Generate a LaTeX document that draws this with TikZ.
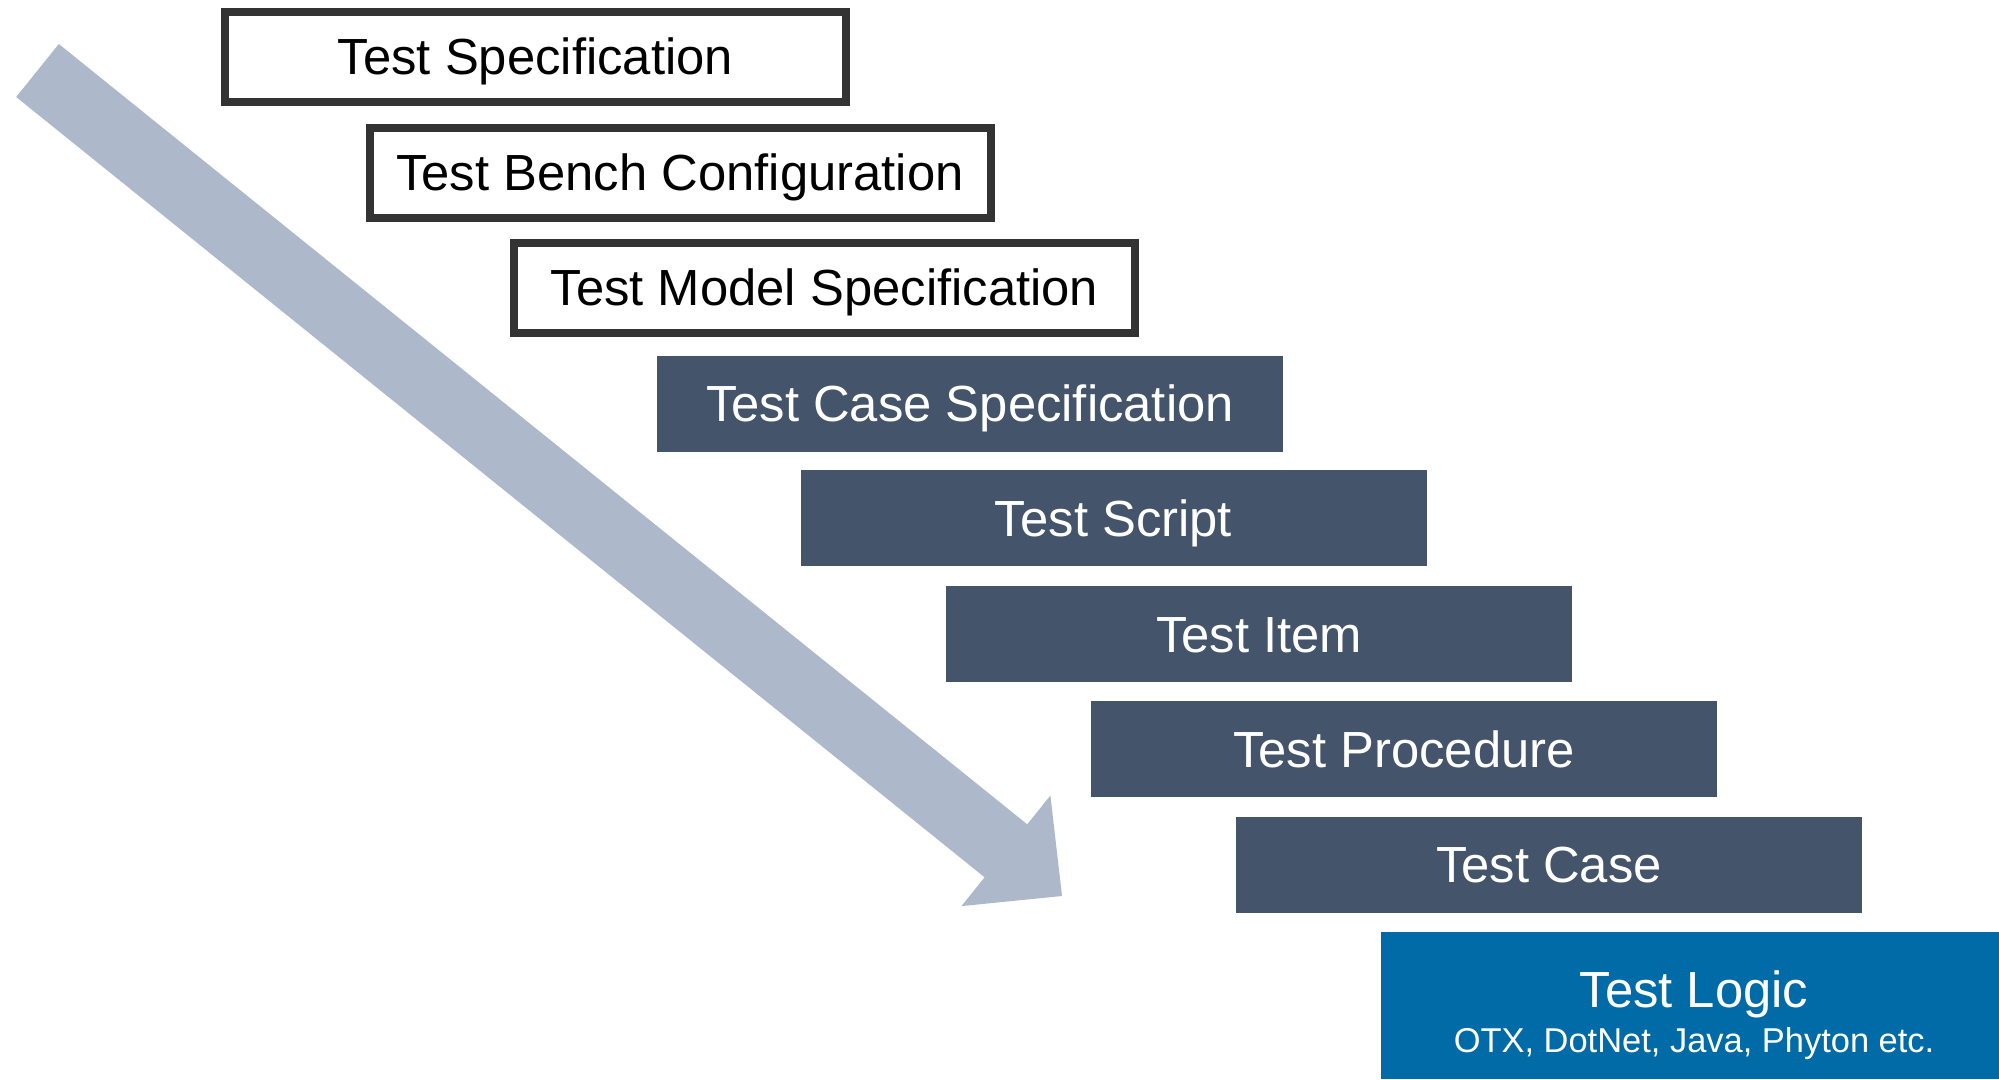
\documentclass[tikz,border=0pt]{standalone}
\usepackage{fontspec}
\setmainfont{Liberation Sans}
\usepackage{xcolor}
\usepackage{tikz}
\usetikzlibrary{positioning}

\begin{document}
\begin{tikzpicture}[
    phase/.style={rectangle, minimum width=12.52cm, minimum height=1.92cm,
                  text height=20.7pt, text depth=0pt, inner sep=0pt,
                  font=\fontsize{28.9}{34}\selectfont},
    spec/.style={phase, draw=borderC, line width=0.16cm, fill=white, text=black,
                 minimum width=12.42cm, minimum height=1.80cm},
    impl/.style={phase, fill=implC, text=white},
    logicbox/.style={rectangle, fill=logicC, inner sep=0pt,
                     minimum width=12.36cm, minimum height=2.94cm},
]

% Color definitions
\definecolor{borderC}{RGB}{51,51,51}
\definecolor{implC}{RGB}{68,84,106}
\definecolor{logicC}{RGB}{0,107,166}
\definecolor{flowC}{RGB}{173,185,202}

\useasboundingbox (0,0) rectangle (39.98,-21.58);

% Big arrow, top left to bottom right
\fill[flowC] (1.176,-0.880) -- (20.544,-16.486) -- (21.008,-15.910) -- (21.24,-17.92)
  -- (19.228,-18.122) -- (19.692,-17.546) -- (0.324,-1.940) -- cycle;

% Steps top to bottom
\node[spec] (tspec) at (10.71, -1.13) {Test Specification};
\node[spec] (bench) at (13.60, -3.45) {Test Bench Configuration};
\node[spec] (model) at (16.49, -5.75) {Test Model Specification};
\node[impl] (cspec) at (19.40, -8.07) {Test Case Specification};
\node[impl] (script) at (22.27, -10.36) {Test Script};
\node[impl] (item) at (25.18, -12.68) {Test Item};
\node[impl] (proc) at (28.08, -14.98) {Test Procedure};
\node[impl] (tcase) at (30.98, -17.29) {Test Case};

% Bottom step
\node[logicbox] (logic) at (33.80, -20.11) {};
\node[anchor=base, text=white, font=\fontsize{28.9}{34}\selectfont]
  (logictitle) at (33.88, -20.14) {Test Logic};
\node[anchor=base, text=white, font=\fontsize{19.6}{24}\selectfont]
  (logicsub) at (33.88, -21.04) {OTX, DotNet, Java, Phyton etc.};

\end{tikzpicture}
\end{document}
